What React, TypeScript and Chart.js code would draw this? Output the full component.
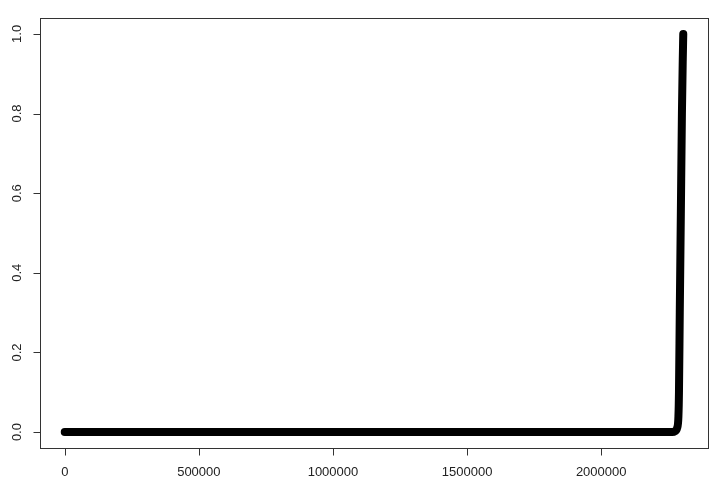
import React, { useEffect, useRef } from "react";
import { Chart, registerables, Plugin } from "chart.js";

Chart.register(...registerables);

// sorted values: flat at zero, then a sharp rise at the very end
const xValues = [0, 2265000, 2275000, 2283000, 2288000, 2290000, 2293000, 2297000, 2301000, 2304000, 2306000];
const yValues = [0, 0, 0.002, 0.01, 0.04, 0.1, 0.3, 0.55, 0.8, 0.93, 1.0];

const xTicks = [0, 500000, 1000000, 1500000, 2000000];
const yTicks = [0, 0.2, 0.4, 0.6, 0.8, 1.0];

const FONT = '13px "Liberation Sans", Arial, Helvetica, sans-serif';

// R style frame, ticks and labels
const baseAxes: Plugin = {
	id: "baseAxes",
	afterDraw(chart) {
		const { ctx, chartArea, scales } = chart;
		const xs = scales.x;
		const ys = scales.y;
		ctx.save();
		ctx.strokeStyle = "#333";
		ctx.lineWidth = 1;
		ctx.strokeRect(chartArea.left + 0.5, chartArea.top + 0.5, chartArea.right - chartArea.left, chartArea.bottom - chartArea.top);

		ctx.fillStyle = "#222";
		ctx.font = FONT;
		ctx.textAlign = "center";
		ctx.textBaseline = "middle";

		// x axis
		ctx.beginPath();
		const bx = chartArea.bottom + 0.5;
		ctx.moveTo(xs.getPixelForValue(xTicks[0]), bx);
		ctx.lineTo(xs.getPixelForValue(xTicks[xTicks.length - 1]), bx);
		xTicks.forEach((t) => {
			const px = Math.round(xs.getPixelForValue(t)) + 0.5;
			ctx.moveTo(px, bx);
			ctx.lineTo(px, bx + 7);
		});
		ctx.stroke();
		xTicks.forEach((t) => {
			ctx.fillText(String(t), xs.getPixelForValue(t), chartArea.bottom + 24);
		});

		// y axis
		ctx.beginPath();
		const lx = chartArea.left + 0.5;
		ctx.moveTo(lx, ys.getPixelForValue(yTicks[0]));
		ctx.lineTo(lx, ys.getPixelForValue(yTicks[yTicks.length - 1]));
		yTicks.forEach((t) => {
			const py = Math.round(ys.getPixelForValue(t)) + 0.5;
			ctx.moveTo(lx, py);
			ctx.lineTo(lx - 7, py);
		});
		ctx.stroke();
		yTicks.forEach((t) => {
			ctx.save();
			ctx.translate(chartArea.left - 23, ys.getPixelForValue(t));
			ctx.rotate(-Math.PI / 2);
			ctx.fillText(t.toFixed(1), 0, 0);
			ctx.restore();
		});
		ctx.restore();
	},
};

const App: React.FC = () => {
	const chartRef = useRef<HTMLCanvasElement>(null);
	const chartInstance = useRef<Chart | null>(null);

	useEffect(() => {
		document.body.style.margin = "0";
		if (!chartRef.current) return;
		if (chartInstance.current) chartInstance.current.destroy();

		const xMax = xValues[xValues.length - 1];
		const xPad = xMax * 0.04;

		chartInstance.current = new Chart(chartRef.current, {
			type: "line",
			data: {
				datasets: [
					{
						data: xValues.map((x, i) => ({ x, y: yValues[i] })),
						borderColor: "#000",
						borderWidth: 8,
						borderCapStyle: "round",
						borderJoinStyle: "round",
						cubicInterpolationMode: "monotone",
						pointRadius: 0,
						fill: false,
					},
				],
			},
			options: {
				animation: false,
				responsive: false,
				layout: { padding: { left: 40, top: 18, right: 12, bottom: 42 } },
				plugins: { legend: { display: false }, tooltip: { enabled: false } },
				scales: {
					x: { type: "linear", display: false, min: -xPad, max: xMax + xPad },
					y: { type: "linear", display: false, min: -0.04, max: 1.04 },
				},
			},
			plugins: [baseAxes],
		});

		return () => {
			if (chartInstance.current) {
				chartInstance.current.destroy();
				chartInstance.current = null;
			}
		};
	}, []);

	return (
		<div style={{ width: 720, height: 490, background: "#fff" }}>
			<canvas ref={chartRef} width={720} height={490} style={{ width: 720, height: 490 }}></canvas>
		</div>
	);
};

export default App;
